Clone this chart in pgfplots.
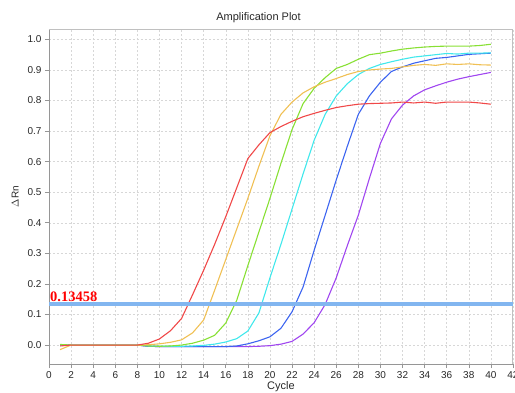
\documentclass[border=0pt]{standalone}
\usepackage{fontspec}
\setmainfont{Liberation Sans}
\newfontfamily\thrfont{Liberation Serif}
\usepackage{pgfplots}
\usepackage{pgfplotstable}
\pgfplotsset{compat=1.18}
\definecolor{cRed}{RGB}{240,72,72}
\definecolor{cOrange}{RGB}{240,192,84}
\definecolor{cGreen}{RGB}{136,224,52}
\definecolor{cCyan}{RGB}{64,232,236}
\definecolor{cBlue}{RGB}{60,100,240}
\definecolor{cPurple}{RGB}{160,70,240}
\definecolor{cThr}{RGB}{130,182,240}
\definecolor{cGrid}{RGB}{215,215,215}
\definecolor{cAxis}{RGB}{150,150,150}
\definecolor{cTxt}{RGB}{40,40,40}

\pgfplotstableread{
c  red    orange green  cyan   blue   purple
1  -0.003 -0.015 0.002  0.000  0.000  0.000
2  0.000  0.000  0.000  0.000  0.000  0.000
3  0.000  0.000  0.000  0.000  0.000  0.000
4  0.000  0.000  0.000  0.000  0.000  0.000
5  0.000  0.000  0.000  0.000  0.000  0.000
6  0.000  0.000  0.000  0.000  0.000  0.000
7  0.000  0.000  0.000  0.000  0.000  0.000
8  0.000  0.000  0.000  0.000  0.000  0.000
9  0.006  0.001  -0.003 -0.003 -0.004 -0.004
10 0.020  0.004  -0.004 -0.004 -0.005 -0.005
11 0.047  0.009  -0.003 -0.004 -0.005 -0.005
12 0.087  0.017  0.000  -0.004 -0.005 -0.005
13 0.165  0.040  0.006  -0.003 -0.005 -0.005
14 0.245  0.082  0.016  -0.001 -0.005 -0.005
15 0.330  0.180  0.032  0.003  -0.005 -0.005
16 0.420  0.280  0.072  0.010  -0.005 -0.005
17 0.515  0.380  0.147  0.021  -0.003 -0.005
18 0.610  0.480  0.260  0.046  0.004  -0.005
19 0.655  0.585  0.370  0.105  0.014  -0.004
20 0.695  0.685  0.480  0.220  0.027  -0.002
21 0.715  0.755  0.595  0.330  0.055  0.003
22 0.732  0.795  0.705  0.445  0.109  0.012
23 0.747  0.825  0.790  0.560  0.190  0.036
24 0.758  0.845  0.840  0.670  0.310  0.073
25 0.768  0.860  0.875  0.755  0.425  0.133
26 0.777  0.872  0.905  0.815  0.540  0.220
27 0.783  0.885  0.918  0.855  0.650  0.325
28 0.788  0.895  0.935  0.885  0.755  0.425
29 0.790  0.900  0.950  0.905  0.815  0.545
30 0.791  0.903  0.955  0.918  0.860  0.660
31 0.792  0.905  0.962  0.927  0.895  0.740
32 0.795  0.910  0.968  0.935  0.910  0.785
33 0.792  0.915  0.972  0.942  0.922  0.815
34 0.795  0.918  0.975  0.946  0.930  0.835
35 0.791  0.915  0.977  0.950  0.938  0.848
36 0.795  0.920  0.978  0.954  0.941  0.860
37 0.795  0.918  0.978  0.952  0.946  0.870
38 0.795  0.920  0.978  0.955  0.951  0.878
39 0.792  0.917  0.980  0.955  0.953  0.885
40 0.788  0.916  0.984  0.956  0.955  0.892
}\qdata

\begin{document}
\begin{tikzpicture}[x=1pt,y=1pt]
\useasboundingbox (-49,-28) rectangle (466,364);
\node[font=\fontsize{11}{12}\selectfont, text=cTxt, anchor=base] at (209.5,344) {Amplification Plot};
\begin{axis}[
  at={(0,0)}, anchor=south west,
  scale only axis, width=464pt, height=335pt,
  xmin=0, xmax=42, ymin=-0.062, ymax=1.034,
  xtick={0,2,...,42},
  ytick={0,0.1,0.2,0.3,0.4,0.5,0.6,0.7,0.8,0.9,1.0},
  yticklabel style={/pgf/number format/.cd, fixed, fixed zerofill, precision=1},
  /pgf/number format/assume math mode=true,
  ticklabel style={font=\fontsize{10}{11}\selectfont, text=cTxt},
  axis x line*=bottom, axis y line*=left,
  axis line style={cAxis, line width=0.8pt},
  tick style={cAxis, line width=0.6pt},
  tick align=outside, major tick length=4pt,
  grid=major,
  major grid style={cGrid, dash pattern=on 2pt off 2pt, line width=0.5pt},
  xlabel={Cycle},
  xlabel style={at={(axis description cs:0.5,-0.069)}, anchor=center, font=\fontsize{11}{12}\selectfont, text=cTxt},
  ylabel={$\Delta$Rn},
  ylabel style={at={(axis description cs:-0.073,0.5)}, anchor=center, font=\fontsize{10}{11}\selectfont, text=cTxt},
  clip=false,
  every axis plot/.append style={line width=1.1pt, no markers},
]
\draw[cAxis!60, line width=1pt] (rel axis cs:0,1) -- (rel axis cs:1,1) -- (rel axis cs:1,0);
\addplot[cPurple] table[x=c, y=purple] {\qdata};
\addplot[cBlue]   table[x=c, y=blue]   {\qdata};
\addplot[cCyan]   table[x=c, y=cyan]   {\qdata};
\addplot[cGreen]  table[x=c, y=green]  {\qdata};
\addplot[cOrange] table[x=c, y=orange] {\qdata};
\addplot[cRed]    table[x=c, y=red]    {\qdata};
\addplot[cThr, line width=3.5pt] coordinates {(0,0.13458) (42,0.13458)};
\node[anchor=south west, inner sep=0pt, xshift=1pt, yshift=2.5pt, text=red,
      font=\thrfont\bfseries\fontsize{14.5}{15}\selectfont] at (axis cs:0,0.13458) {0.13458};
\end{axis}
\end{tikzpicture}
\end{document}
